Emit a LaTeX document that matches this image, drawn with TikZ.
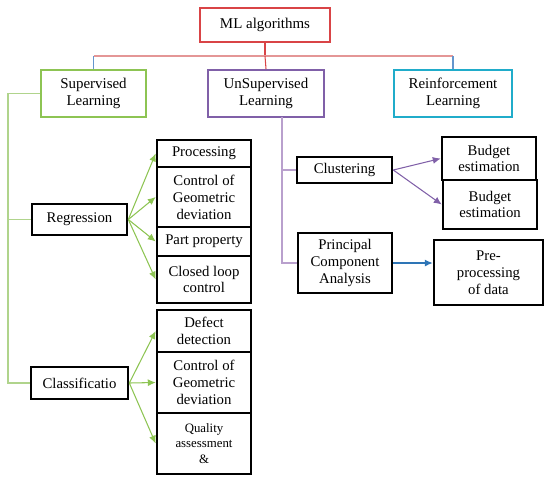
\documentclass[tikz,border=0pt]{standalone}
\usepackage{fontspec}
\usetikzlibrary{arrows.meta}
\setmainfont{Liberation Serif}
\definecolor{mlred}{RGB}{217,68,70}
\definecolor{supgreen}{RGB}{141,196,83}
\definecolor{unpurple}{RGB}{128,96,168}
\definecolor{reteal}{RGB}{32,172,202}
\definecolor{treepink}{RGB}{228,150,150}
\definecolor{treeblue}{RGB}{100,150,205}
\definecolor{lgreen}{RGB}{176,212,140}
\definecolor{lpurple}{RGB}{185,160,205}
\definecolor{arrblue}{RGB}{46,117,182}
\begin{document}
\begin{tikzpicture}[x=0.02cm,y=-0.02cm,>={Latex[length=4.5pt,width=4pt]},
  top/.style={draw,line width=1.4pt,inner sep=1pt,align=center,minimum height=0.94cm,font=\fontsize{8.5}{10}\selectfont},
  leaf/.style={draw,line width=1.5pt,inner sep=1pt,align=center,minimum width=1.88cm,font=\fontsize{8.4}{9.6}\selectfont},
  tree/.style={line width=0.6pt}]
\useasboundingbox (0,0) rectangle (550,481);
\node[top,draw=mlred,minimum width=2.6cm,minimum height=0.68cm] (ml) at (265,25) {ML algorithms};
\node[top,draw=supgreen,minimum width=2.1cm] (sup) at (93.5,93.5) {Supervised\\Learning};
\node[top,draw=unpurple,minimum width=2.32cm] (unsup) at (266,93.5) {UnSupervised\\Learning};
\node[top,draw=reteal,minimum width=2.36cm] (reinf) at (453,93.5) {Reinforcement\\Learning};
% supervised
\node[leaf,minimum width=1.9cm,minimum height=0.62cm] (reg) at (79.5,219.5) {Regression};
\node[leaf,minimum width=1.94cm,minimum height=0.64cm] (cls) at (79.5,383) {Classificatio};
\node[leaf,minimum height=0.54cm] (proc) at (204,153.5) {Processing};
\node[leaf,minimum height=1.2cm] (geo1) at (204,197) {Control of\\Geometric\\deviation};
\node[leaf,minimum height=0.58cm] (part) at (204,241.5) {Part property};
\node[leaf,minimum height=0.94cm] (loop) at (204,279.5) {Closed loop\\control};
\node[leaf,minimum height=0.84cm] (defect) at (204,331) {Defect\\detection};
\node[leaf,minimum height=1.22cm] (geo2) at (204,382.5) {Control of\\Geometric\\deviation};
\node[leaf,minimum height=1.22cm,font=\fontsize{7.3}{8.6}\selectfont] (qual) at (204,443.5) {Quality\\assessment\\\&};
% unsupervised
\node[leaf,minimum width=1.9cm,minimum height=0.52cm] (clus) at (344.5,170) {Clustering};
\node[leaf,minimum height=1.2cm] (pca) at (345,263) {Principal\\Component\\Analysis};
\node[leaf,minimum height=0.86cm] (bud1) at (489,158.5) {Budget\\estimation};
\node[leaf,minimum height=0.98cm] (bud2) at (490,204.5) {Budget\\estimation};
\node[leaf,minimum width=2.18cm,minimum height=1.3cm] (pre) at (488.5,272.5) {Pre-\\processing\\of data};
% tree lines
\coordinate (j) at (265,56);
\coordinate (sv) at (8,93.5);
\coordinate (uv) at (282,117);
\draw[tree,mlred] (ml) -- (j);
\draw[tree,treepink] (sup.north |- j) -- (reinf.north |- j);
\draw[tree,treeblue] (sup.north |- j) -- (sup.north);
\draw[tree,mlred] (j) -- (unsup.north);
\draw[tree,treeblue] (reinf.north |- j) -- (reinf.north);
\draw[tree,lgreen] (sup.west) -- (sv) |- (cls.west);
\draw[tree,lgreen] (sv |- reg.west) -- (reg.west);
\draw[tree,lpurple] (uv) |- (pca.west);
\draw[tree,lpurple] (uv |- clus.west) -- (clus.west);
% arrows
\foreach \t in {proc,geo1,part,loop} \draw[->,tree,supgreen] (reg.east) -- (\t.west);
\foreach \t in {defect,geo2,qual} \draw[->,tree,supgreen] (cls.east) -- (\t.west);
\foreach \t in {bud1,bud2} \draw[->,tree,unpurple] (clus.east) -- (\t.west);
\draw[->,tree,arrblue] (pca.east) -- (pca.east -| pre.west);
\end{tikzpicture}
\end{document}
